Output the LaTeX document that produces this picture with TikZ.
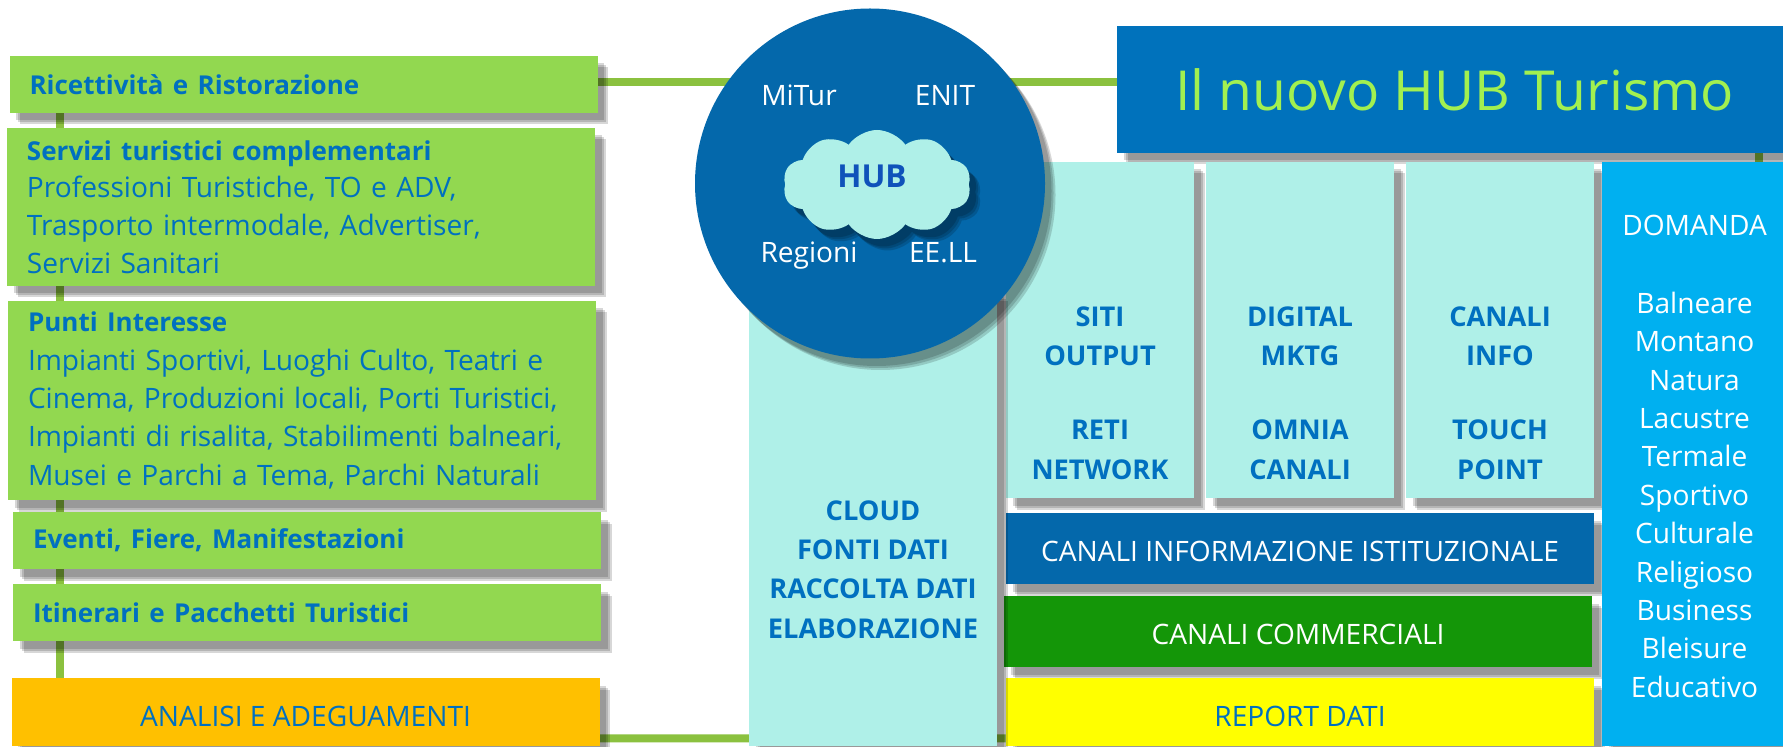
\documentclass[tikz,border=0pt]{standalone}
\usepackage{fontspec}
\setmainfont{Open Sans}
\usepackage{tikz}
\usetikzlibrary{shapes.symbols, shadows, backgrounds, positioning}
\definecolor{TextBlue}{HTML}{0070C0}
\definecolor{LeafGreen}{HTML}{92D850}
\definecolor{LinkGreen}{HTML}{8BC13F}
\definecolor{PaleCyan}{HTML}{AFF0E8}
\definecolor{HubBlue}{HTML}{0468AB}
\definecolor{TitleBlue}{HTML}{0072BC}
\definecolor{TitleGreen}{HTML}{A2F050}
\definecolor{SkyBlue}{HTML}{00B0F0}
\definecolor{ShopGreen}{HTML}{149608}
\definecolor{CloudText}{HTML}{0F52BA}
\definecolor{AlertOrange}{HTML}{FFC000}
\definecolor{ReportYellow}{HTML}{FFFF00}
\tikzstyle{link} = [line width=0.16cm, LinkGreen]
\tikzstyle{softshadow} = [
  drop shadow={shadow xshift=0.13cm, shadow yshift=-0.15cm, fill=black, opacity=0.157},
  drop shadow={shadow xshift=0.17cm, shadow yshift=-0.19cm, fill=black, opacity=0.157},
  drop shadow={shadow xshift=0.21cm, shadow yshift=-0.23cm, fill=black, opacity=0.157}]
\tikzstyle{leaf} = [rectangle, softshadow, fill=LeafGreen, text=TextBlue, inner ysep=0pt, inner xsep=0.4cm, text width=10.96cm, align=left, minimum height=1.14cm, font=\fontsize{16}{21.4}\selectfont]
\tikzstyle{band} = [rectangle, softshadow, minimum width=11.76cm, minimum height=1.42cm, inner sep=0pt, text=white, text height=0.51cm, align=center, font=\fontsize{16}{21.4}\selectfont]
\tikzstyle{pale} = [rectangle, softshadow, fill=PaleCyan, inner sep=0pt]
\tikzstyle{paletext} = [text=TextBlue, align=center, inner sep=0pt, font=\bfseries\fontsize{15.5}{22.4}\selectfont]
\tikzstyle{hubname} = [text=white, inner sep=0pt, text height=0.42cm, text depth=0.1cm, font=\fontsize{16}{21.4}\selectfont]
\newcommand{\headline}[1]{{\bfseries\fontsize{14.8}{21.4}\selectfont #1}}
\begin{document}
\begin{tikzpicture}[node distance=1.5cm]
  \useasboundingbox (0,0) rectangle (35.66,14.92);
  % left column
  \node (ricettivita) [leaf] at (6.07,13.23) {\headline{Ricettività e Ristorazione}};
  \node (servizi) [leaf, below of=ricettivita, node distance=2.45cm, xshift=-0.05cm, minimum height=3.16cm] {\headline{Servizi turistici complementari}\\Professioni Turistiche, TO e ADV,\\Trasporto intermodale, Advertiser,\\Servizi Sanitari};
  \node (punti) [leaf, below of=servizi, node distance=3.87cm, xshift=0.02cm, minimum height=3.98cm, font=\fontsize{16}{21.85}\selectfont] {\headline{Punti Interesse}\\Impianti Sportivi, Luoghi Culto, Teatri e\\Cinema, Produzioni locali, Porti Turistici,\\Impianti di risalita, Stabilimenti balneari,\\Musei e Parchi a Tema, Parchi Naturali};
  \node (eventi) [leaf, below of=punti, node distance=2.8cm, xshift=0.1cm] {\headline{Eventi, Fiere, Manifestazioni}};
  \node (itinerari) [leaf, below of=eventi, node distance=1.44cm] {\headline{Itinerari e Pacchetti Turistici}};
  \node (analisi) [band, below of=itinerari, node distance=1.99cm, xshift=-0.03cm, fill=AlertOrange, text=TextBlue, text height=0.59cm, minimum height=1.36cm] {ANALISI E ADEGUAMENTI};
  % right block
  \node (title) [rectangle, softshadow, fill=TitleBlue, text=TitleGreen, minimum width=13.32cm, minimum height=2.54cm, inner sep=0pt, font=\fontsize{31.4}{38}\selectfont] at (29,13.13) {\hspace{0.18cm}Il nuovo HUB Turismo};
  \node (siti) [pale, below of=title, node distance=4.81cm, xshift=-7cm, minimum width=3.76cm, minimum height=6.72cm] {};
  \node (digital) [pale, right of=siti, node distance=4cm, minimum width=3.76cm, minimum height=6.72cm] {};
  \node (canali) [pale, right of=digital, node distance=4cm, minimum width=3.76cm, minimum height=6.72cm] {};
  \node (sititext) [paletext, below of=siti, node distance=1.26cm] {SITI\\OUTPUT\\[0.7cm]RETI\\NETWORK};
  \node (digitaltext) [paletext, below of=digital, node distance=1.26cm] {DIGITAL\\MKTG\\[0.7cm]OMNIA\\CANALI};
  \node (canalitext) [paletext, below of=canali, node distance=1.26cm] {CANALI\\INFO\\[0.7cm]TOUCH\\POINT};
  \node (informazione) [band, below of=digital, node distance=4.37cm, fill=HubBlue] {CANALI INFORMAZIONE ISTITUZIONALE};
  \node (commerciali) [band, below of=informazione, node distance=1.66cm, xshift=-0.04cm, fill=ShopGreen] {CANALI COMMERCIALI};
  \node (report) [band, below of=commerciali, node distance=1.61cm, xshift=0.04cm, fill=ReportYellow, text=TextBlue, text height=0.59cm, minimum height=1.36cm] {REPORT DATI};
  \node (domanda) [rectangle, softshadow, right of=canali, node distance=3.85cm, yshift=-2.48cm, fill=SkyBlue, minimum width=3.62cm, minimum height=11.68cm, inner sep=0pt] {};
  \node (domandatext) [text=white, inner sep=0pt, align=center, below of=domanda, node distance=0.05cm, xshift=0.04cm, font=\fontsize{16}{21.85}\selectfont] {DOMANDA\\[0.78cm]Balneare\\Montano\\Natura\\Lacustre\\Termale\\Sportivo\\Culturale\\Religioso\\Business\\Bleisure\\Educativo};
  \node (fonti) [pale, left of=siti, node distance=4.54cm, yshift=-3.76cm, minimum width=4.96cm, minimum height=9.12cm] {};
  \node (fontitext) [paletext, below of=fonti, node distance=1.03cm] {CLOUD\\FONTI DATI\\RACCOLTA DATI\\ELABORAZIONE};
  % hub
  \node (hub) [circle, softshadow, fill=HubBlue, minimum size=7cm, inner sep=0pt] at (17.4,11.25) {};
  \node (cloud) [cloud, cloud puffs=10, cloud puff arc=110, aspect=1.7, fill=PaleCyan, minimum width=3.76cm, minimum height=2.18cm, inner sep=0pt, softshadow, right of=hub, node distance=0.14cm, yshift=-0.02cm] {};
  \node (hubtext) [text=CloudText, inner sep=0pt, font=\bfseries\fontsize{18}{20}\selectfont, above of=cloud, node distance=0.17cm, xshift=-0.1cm] {HUB};
  \node (mitur) [hubname, above of=hub, node distance=1.72cm, xshift=-1.42cm] {MiTur};
  \node (enit) [hubname, above of=hub, node distance=1.72cm, xshift=1.5cm] {ENIT};
  \node (regioni) [hubname, below of=hub, node distance=1.43cm, xshift=-1.22cm] {Regioni};
  \node (eell) [hubname, below of=hub, node distance=1.43cm, xshift=1.46cm] {EE.LL};
  % connectors go under everything
  \begin{scope}[on background layer]
    \coordinate (spine) at (1.2,0);
    \draw [link] (ricettivita.south -| spine) -- (analisi.north -| spine);
    \draw [link] ([yshift=0.05cm]ricettivita.east) -- ([yshift=0.15cm]title.west);
    \draw [link] ([yshift=0.16cm]analisi.south east) -- ([yshift=0.16cm]report.south west);
    \draw [link] ([xshift=1.33cm]title.south -| domanda.north) -- ([xshift=1.33cm]domanda.north);
  \end{scope}
\end{tikzpicture}
\end{document}
